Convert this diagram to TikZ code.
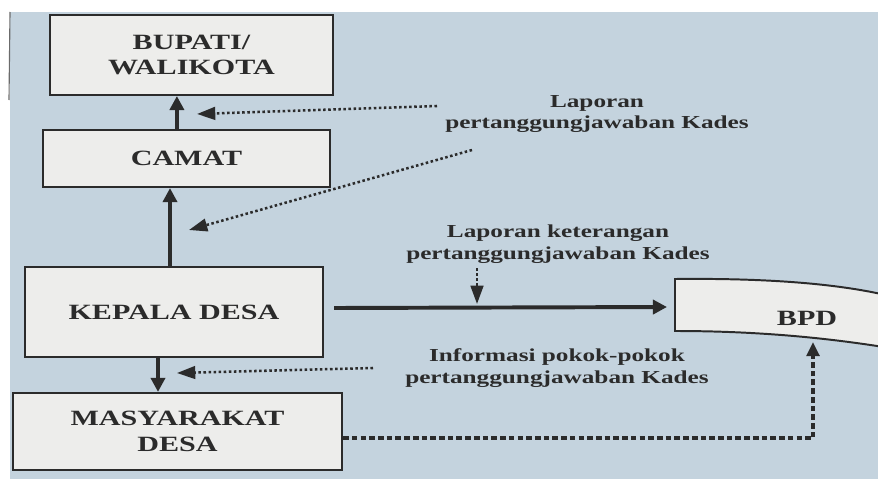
\documentclass[tikz,border=0pt]{standalone}
\usepackage{fontspec}
\setmainfont{Liberation Serif}[FakeStretch=1.38]
\usetikzlibrary{positioning,arrows.meta}
\definecolor{paper}{HTML}{C4D3DE}
\definecolor{boxfill}{HTML}{EDEDEB}
\definecolor{ink}{HTML}{2B2B2B}
\tikzset{
  orgbox/.style={draw=ink, line width=1.4pt, fill=boxfill, align=center, text=ink,
    font=\fontsize{15.5}{18}\selectfont\bfseries},
  note/.style={align=center, text=ink, font=\fontsize{13}{15.5}\selectfont\bfseries},
  solidarrow/.style={draw=ink, line width=2.8pt, -{Triangle[length=10pt,width=10pt]}},
  dotarrow/.style={draw=ink, line width=1.8pt, dash pattern=on 1.8pt off 1.8pt,
    -{Triangle[length=13pt,width=9pt]}},
  thickdot/.style={draw=ink, line width=2.8pt, dash pattern=on 4pt off 2.2pt,
    -{Triangle[length=10pt,width=9pt]}}
}

\begin{document}
\begin{tikzpicture}[x=0.025cm, y=-0.025cm]
  \useasboundingbox (0,0) rectangle (878,479);
  \clip (0,0) rectangle (878,479);
  \fill[white] (0,0) rectangle (878,479);
  \fill[paper] (10,12) rectangle (878,479);
  \draw[ink!70, line width=0.8pt] (10,12) -- (9,100);

  \node[orgbox, minimum width=7.08cm, minimum height=2cm] (bupati) at (191.5,55) {BUPATI/\\WALIKOTA};
  \node[orgbox, minimum width=7.18cm, minimum height=1.43cm] (camat) at (186.5,158.5) {CAMAT};
  \node[orgbox, minimum width=7.45cm, minimum height=2.25cm] (kepala) at (174,312) {KEPALA DESA};
  \node[orgbox, minimum width=8.23cm, minimum height=1.93cm] (masy) at (177.5,431.5) {MASYARAKAT\\DESA};

  \fill[boxfill] (675,279) .. controls (770,278) and (840,284) .. (890,296)
    -- (890,348) .. controls (840,340) and (770,331) .. (675,331) -- cycle;
  \draw[ink, line width=1.4pt] (890,296) .. controls (840,284) and (770,278) .. (675,279)
    -- (675,331) .. controls (770,331) and (840,340) .. (890,348);
  \node[orgbox, draw=none, fill=none] (bpd) at (807,318) {BPD};

  \node[note] (lap1) at (597,114) {Laporan\\pertanggungjawaban Kades};
  \node[note] (lap2) at (558,244) {Laporan keterangan\\pertanggungjawaban Kades};
  \node[note] (info) at (557,368) {Informasi pokok-pokok\\pertanggungjawaban Kades};

  \draw[solidarrow] ([xshift=-0.24cm]camat.north) -- ([xshift=-0.24cm]camat.north |- bupati.south);
  \draw[solidarrow] ([xshift=-0.1cm]kepala.north) -- ([xshift=-0.1cm]kepala.north |- camat.south);
  \draw[solidarrow] ([xshift=-0.4cm]kepala.south) -- ([xshift=-0.4cm]kepala.south |- masy.north);

  \coordinate (bpdin) at (667,307);
  \coordinate (bpdbot) at (813,342);
  \coordinate (ket) at (477,304);
  \draw[solidarrow] ([xshift=0.25cm,yshift=0.1cm]kepala.east) -- (bpdin);
  \draw[dotarrow] (ket |- lap2.south) -- (ket);

  \coordinate (s1) at (437,106);
  \coordinate (t1) at (197,114);
  \coordinate (s2) at (472,150);
  \coordinate (t2) at (189,230);
  \coordinate (s3) at (373,368);
  \coordinate (t3) at (177,373);
  \draw[dotarrow] (s1) -- (t1);
  \draw[dotarrow] (s2) -- (t2);
  \draw[dotarrow] (s3) -- (t3);

  \draw[thickdot] ([yshift=-0.17cm]masy.east) -| (bpdbot);
\end{tikzpicture}
\end{document}
